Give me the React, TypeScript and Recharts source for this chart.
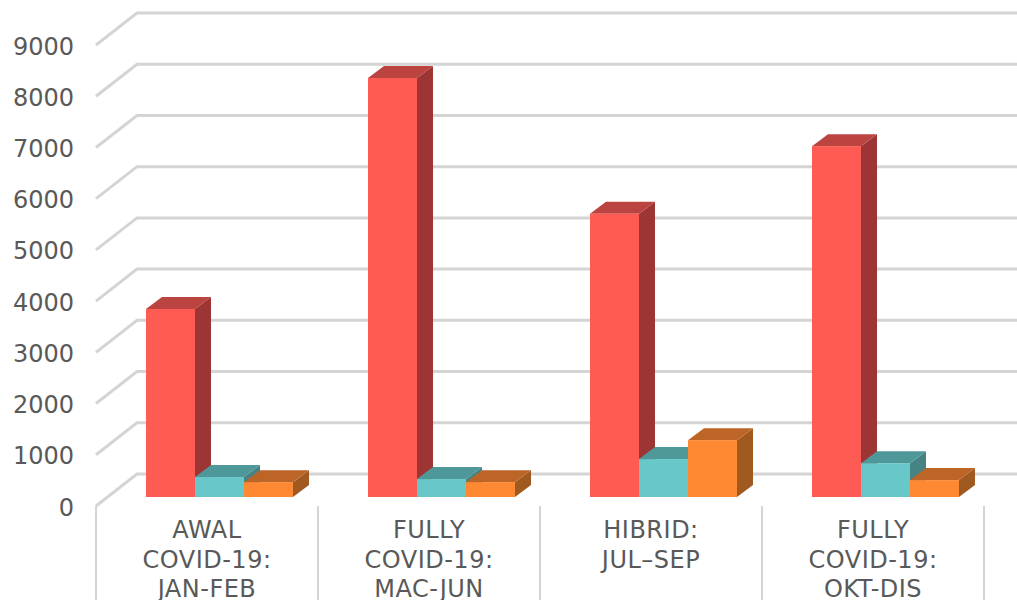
import { BarChart, Bar, XAxis, YAxis, CartesianGrid } from 'recharts';

const CATEGORIES = [
  'AWAL\nCOVID-19:\nJAN-FEB',
  'FULLY\nCOVID-19:\nMAC-JUN',
  'HIBRID:\nJUL\u2013SEP',
  'FULLY\nCOVID-19:\nOKT-DIS',
];
const SERIES_A = [3670, 8180, 5530, 6850];
const SERIES_B = [390, 350, 740, 660];
const SERIES_C = [290, 290, 1110, 330];
const Y_TICKS = [0, 1000, 2000, 3000, 4000, 5000, 6000, 7000, 8000, 9000];

const data = CATEGORIES.map((category, i) => ({
  category,
  a: SERIES_A[i],
  b: SERIES_B[i],
  c: SERIES_C[i],
}));

const FONT = "'DejaVu Sans', Verdana, sans-serif";
const TEXT_COLOR = '#595959';
const GRID_COLOR = '#d4d4d4';

// offsets of the fake 3D planes, relative to the plane the bars stand on
const FRONT_DX = -12;
const FRONT_DY = 9;
const BACK_DX = 29;
const BACK_DY = -23;
const BAR_DX = 16;
const BAR_DY = -12;
const BAND = 222;

function GridLine(props: any) {
  const { x1, y1 } = props;
  return (
    <polyline
      points={`${x1 + FRONT_DX},${y1 + FRONT_DY} ${x1 + BACK_DX},${y1 + BACK_DY} 1017,${y1 + BACK_DY}`}
      fill="none"
      stroke={GRID_COLOR}
      strokeWidth={3}
    />
  );
}

function YTick({ x, y, payload }: any) {
  return (
    <text
      x={x - 26}
      y={y + FRONT_DY + 9.5}
      textAnchor="end"
      fontFamily={FONT}
      fontSize={24}
      fill={TEXT_COLOR}
    >
      {payload.value}
    </text>
  );
}

function XTick({ x, y, payload, index }: any) {
  const lines = String(payload.value).split('\n');
  const cx = x + FRONT_DX;
  const top = y + FRONT_DY - 8;
  return (
    <g>
      {index === 0 && (
        <line x1={cx - BAND / 2} x2={cx - BAND / 2} y1={top} y2={600} stroke={GRID_COLOR} strokeWidth={2} />
      )}
      <line x1={cx + BAND / 2} x2={cx + BAND / 2} y1={top} y2={600} stroke={GRID_COLOR} strokeWidth={2} />
      <text textAnchor="middle" fontFamily={FONT} fontSize={24} letterSpacing={0.5} fill={TEXT_COLOR}>
        {lines.map((line, i) => (
          <tspan key={i} x={cx} y={top + 32 + i * 29.5}>
            {line}
          </tspan>
        ))}
      </text>
    </g>
  );
}

function make3dBar(front: string, side: string, topFace: string) {
  return function Bar3d({ x, y, width, height }: any) {
    return (
      <g>
        <polygon
          points={`${x + width},${y} ${x + width + BAR_DX},${y + BAR_DY} ${x + width + BAR_DX},${y + height + BAR_DY} ${x + width},${y + height}`}
          fill={side}
        />
        <polygon
          points={`${x},${y} ${x + BAR_DX},${y + BAR_DY} ${x + width + BAR_DX},${y + BAR_DY} ${x + width},${y}`}
          fill={topFace}
        />
        <rect x={x} y={y} width={width} height={height} fill={front} />
      </g>
    );
  };
}

export default function App() {
  return (
    <div style={{ position: 'absolute', left: 0, top: 0, width: 1017, height: 600, background: '#fff', overflow: 'hidden' }}>
      <BarChart
        width={1017}
        height={600}
        data={data}
        margin={{ top: 36, right: 21, bottom: 0, left: 0 }}
        barSize={49}
        barGap={0}
      >
        <CartesianGrid vertical={false} horizontal={GridLine} syncWithTicks />
        <XAxis
          dataKey="category"
          height={103}
          axisLine={false}
          tickLine={false}
          interval={0}
          tick={XTick}
        />
        <YAxis
          width={108}
          domain={[0, 9000]}
          ticks={Y_TICKS}
          interval={0}
          axisLine={false}
          tickLine={false}
          tick={YTick}
        />
        <Bar dataKey="a" isAnimationActive={false} shape={make3dBar('#ff5b55', '#9c3533', '#bb4340')} />
        <Bar dataKey="b" isAnimationActive={false} shape={make3dBar('#68c8c9', '#468484', '#4f9899')} />
        <Bar dataKey="c" isAnimationActive={false} shape={make3dBar('#ff8833', '#a05a20', '#bc6527')} />
      </BarChart>
    </div>
  );
}
